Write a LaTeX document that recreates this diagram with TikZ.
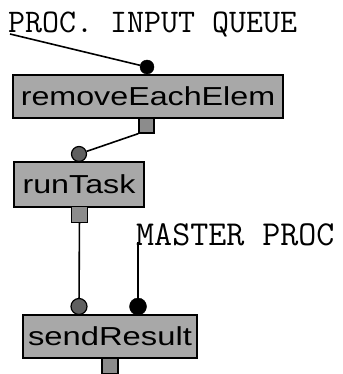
\documentclass[tikz,border=0pt]{standalone}
\usepackage{fontspec}
\setmainfont{Liberation Sans}
\begin{document}
\begin{tikzpicture}[x=1pt,y=-1pt,
  procbox/.style={draw=black,line width=1.8pt,fill=boxgray,inner sep=0pt,
    font=\fontsize{26}{26}\selectfont},
  port/.style={draw=black,line width=1.2pt,fill=portgray,inner sep=0pt,minimum size=15pt},
  inport/.style={circle,draw=black,line width=1.2pt,fill=ingray,inner sep=0pt,minimum size=15pt},
  blackport/.style={circle,draw=black,fill=black,inner sep=0pt,minimum size=16pt},
  lbl/.style={inner sep=0pt,font=\ttfamily\fontsize{33}{33}\selectfont},
  conn/.style={draw=black,line width=1.6pt}]
\definecolor{boxgray}{HTML}{A8A8A8}
\definecolor{portgray}{HTML}{8C8C8C}
\definecolor{ingray}{HTML}{606060}
\useasboundingbox (0,0) rectangle (342,374);
% labels
\node[lbl,anchor=base west] (procq) at (8,33) {PROC. INPUT QUEUE};
\node[lbl,anchor=base west,font=\ttfamily\fontsize{35}{35}\selectfont] (master) at (136,245) {MASTER PROC};
\coordinate (qa) at (10,34);
\coordinate (mp) at (138,242);
% boxes
\node[procbox,minimum width=270pt,minimum height=43pt] (rem) at (148,96.5) {\scalebox{1.24}[1]{removeEachElem}};
\node[procbox,minimum width=130pt,minimum height=45pt] (run) at (79,184.5) {\scalebox{1.24}[1]{runTask}};
\node[procbox,minimum width=174pt,minimum height=43pt] (send) at (110,336.5) {\scalebox{1.26}[1]{sendResult}};
% ports
\node[blackport,minimum size=14pt] (qdot) at (147,67) {};
\node[port] (remout) at (146.5,125.5) {};
\node[inport,minimum size=15pt] (runin) at (79,154) {};
\node[port,minimum size=16pt] (runout) at (79.5,214.5) {};
\node[inport,minimum size=16pt] (sendin) at (79,306.5) {};
\node[blackport,minimum size=17pt] (sendm) at (138,306.5) {};
\node[port,minimum width=16pt,minimum height=16pt] (sendout) at (110,366) {};
% connectors
\draw[conn] (qa) -- (qdot);
\draw[conn] (remout.south west) -- (runin);
\draw[conn] (runout) -- (sendin);
\draw[conn] (mp) -- (sendm);
\end{tikzpicture}
\end{document}
